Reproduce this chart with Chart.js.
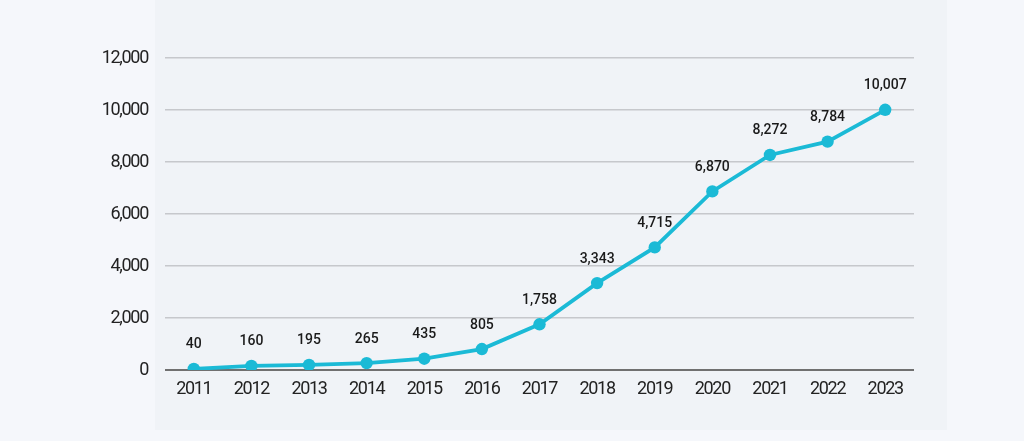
<!DOCTYPE html>
<html>
<head>
<meta charset="utf-8">
<script src="https://cdn.jsdelivr.net/npm/chart.js@4"></script>
<style>
html,body{margin:0;padding:0;background:#f5f7fb;width:1024px;height:441px;overflow:hidden;}
#panel{position:absolute;left:155px;top:0;width:792px;height:430px;background:#f0f3f7;}
#wrap{position:absolute;left:0;top:0;width:1024px;height:441px;}
</style>
</head>
<body>
<div id="panel"></div>
<div id="wrap"><canvas id="c" width="1024" height="441"></canvas></div>
<script>
const years = ['2011','2012','2013','2014','2015','2016','2017','2018','2019','2020','2021','2022','2023'];
const values = [40,160,195,265,435,805,1758,3343,4715,6870,8272,8784,10007];
const yTicks = [0,2000,4000,6000,8000,10000,12000];

const tickFont = "Roboto, sans-serif";

const spacingPlugin = {
  id:'tightTicks',
  beforeLayout(chart){ chart.ctx.letterSpacing = '-1.3px'; },
  beforeDraw(chart){ chart.ctx.letterSpacing = '-1.3px'; }
};

const labelPlugin = {
  id:'valueLabels',
  afterDatasetsDraw(chart){
    const ctx = chart.ctx;
    const meta = chart.getDatasetMeta(0);
    ctx.save();
    ctx.letterSpacing = '0px';
    ctx.font = "500 14px Roboto, sans-serif";
    ctx.fillStyle = '#1a1a1a';
    ctx.textAlign = 'center';
    ctx.textBaseline = 'middle';
    meta.data.forEach((pt,i)=>{
      ctx.fillText(values[i].toLocaleString('en-US'), pt.x, pt.y - 24);
    });
    ctx.restore();
  }
};

new Chart(document.getElementById('c'),{
  type:'line',
  data:{labels:years,datasets:[{
    data:values,
    borderColor:'#1bbad6',
    backgroundColor:'#1bbad6',
    borderWidth:3.8,
    pointRadius:6.2,
    pointHoverRadius:6.2,
    pointBackgroundColor:'#1bbad6',
    pointBorderWidth:0,
    tension:0
  }]},
  options:{
    responsive:false,
    animation:false,
    layout:{padding:{left:0,right:110,top:58,bottom:0}},
    plugins:{legend:{display:false},tooltip:{enabled:false}},
    scales:{
      x:{
        offset:true,
        grid:{display:false,drawTicks:false},
        border:{display:false},
        ticks:{padding:9,color:'#222',font:{family:tickFont,size:18}},
        afterFit(s){s.height=71;}
      },
      y:{
        min:0,max:12000,
        afterBuildTicks(s){s.ticks=yTicks.map(v=>({value:v}));},
        grid:{
          drawTicks:false,
          color:(c)=>c.tick && c.tick.value===0 ? '#707070' : '#c6c8cc',
          lineWidth:(c)=>c.tick && c.tick.value===0 ? 2 : 1.5
        },
        border:{display:false},
        ticks:{padding:17,color:'#222',font:{family:tickFont,size:18},
          callback:(v)=>Number(v).toLocaleString('en-US')},
        afterFit(s){s.width=165;}
      }
    }
  },
  plugins:[spacingPlugin,labelPlugin]
});
</script>
</body>
</html>
